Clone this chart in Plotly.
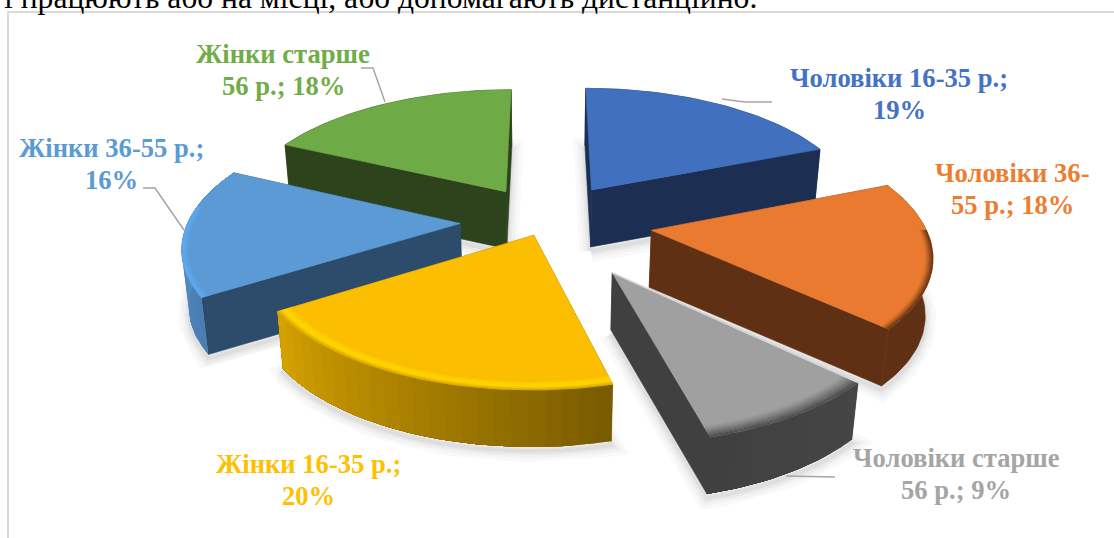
import math
import plotly.graph_objects as go

# ---- data ----
categories = ["Чоловіки 16-35 р.", "Чоловіки 36-55 р.", "Чоловіки старше 56 р.",
              "Жінки 16-35 р.", "Жінки 36-55 р.", "Жінки старше 56 р."]
values = [19, 18, 9, 20, 16, 18]
label_templates = [["Чоловіки 16-35 р.;", "{v}%"], ["Чоловіки 36-", "55 р.; {v}%"],
                   ["Чоловіки старше", "56 р.; {v}%"], ["Жінки 16-35 р.;", "{v}%"],
                   ["Жінки 36-55 р.;", "{v}%"], ["Жінки старше", "56 р.; {v}%"]]
heading = "і працюють або на місці, або допомагають дистанційно."

# ---- style ----
W, H = 1114, 538
explode = [0.31, 0.39, 0.45, 0.12, 0.315, 0.285]
top_col = ["#4170BE", "#E97A30", "#A0A0A0", "#FBBE00", "#5B9AD5", "#6EAA46"]
label_col = ["#4472C4", "#ED7D31", "#A5A5A5", "#FFC000", "#5B9BD5", "#70AD47"]
cut_col = ["#1C2F52", "#5F3013", "#404040", "#8A6800", "#2D4B6B", "#2C431B"]
rim_a = ["#1C2F52", "#5F3013", "#454545", "#7A5C00", "#4A7DB3", "#2C431B"]
rim_b = ["#1C2F52", "#5F3013", "#404040", "#D6A300", "#5B9BD5", "#2C431B"]
bevel = [[], ["#5F3013", "#8F4C1E", "#C0672A", "#E97A30"],
         ["#4A4A4A", "#6A6A6A", "#888888", "#A0A0A0"],
         ["#D8A600", "#FFD800", "#FFD000", "#FBBE00"],
         ["#5FA8EE", "#60A8EE", "#5DA0DD", "#5B9AD5"], []]
bevel_width = [0, 0.03, 0.06, 0.055, 0.03, 0]
label_pos = [(899, 94), (1012, 189), (956, 474), (308, 480), (111, 164), (283, 70)]
leaders = [[(722, 99), (745, 102), (772, 102)],
           [(786, 476), (835, 477)],
           [(143, 188), (155, 188), (184, 230)],
           [(361, 68), (373, 68), (385, 102)]]
paint_order = [0, 5, 1, 4, 2, 3]

CX, CY, S0, B, D, DROP = 546, 221, 272, 126, 6.5, 57


def project(X, Y, down=False):
    w = 1 / (1 - Y / D)
    x = CX + S0 * X * w
    y = CY + B * Y * w
    if down:
        x = CX + (x - CX) * 0.98
        y += DROP
    return x, y


def mix(a, b, t):
    pa = [int(a[i:i + 2], 16) for i in (1, 3, 5)]
    pb = [int(b[i:i + 2], 16) for i in (1, 3, 5)]
    return "#%02X%02X%02X" % tuple(round(p + (q - p) * t) for p, q in zip(pa, pb))


def ramp(stops, t):
    t = min(max(t, 0), 1) * (len(stops) - 1)
    k = min(int(t), len(stops) - 2)
    return mix(stops[k], stops[k + 1], t - k)


total = sum(values)
angles = [0]
for v in values:
    angles.append(angles[-1] + 360 * v / total)

fig = go.Figure()


def poly(pts, color, name, line_w=0.6):
    fig.add_trace(go.Scatter(x=[p[0] for p in pts] + [pts[0][0]],
                             y=[p[1] for p in pts] + [pts[0][1]],
                             mode="lines", fill="toself", fillcolor=color,
                             line=dict(color=color, width=line_w),
                             hoverinfo="skip", showlegend=False, name=name))


def path(pts, color, width, name, opacity=1.0):
    fig.add_trace(go.Scatter(x=[p[0] for p in pts], y=[p[1] for p in pts],
                             mode="lines", line=dict(color=color, width=width),
                             opacity=opacity, hoverinfo="skip",
                             showlegend=False, name=name))


def slice_geom(i):
    a1, a2 = angles[i], angles[i + 1]
    mid = math.radians((a1 + a2) / 2)
    ox, oy = explode[i] * math.sin(mid), -explode[i] * math.cos(mid)
    return a1, a2, ox, oy


def rim_point(ox, oy, deg, r=1.0):
    t = math.radians(deg)
    return ox + r * math.sin(t), oy - r * math.cos(t)


def arc(ox, oy, a1, a2, r=1.0, step=1.5):
    n = max(2, int((a2 - a1) / step) + 1)
    return [rim_point(ox, oy, a1 + (a2 - a1) * k / (n - 1), r) for k in range(n)]


# soft shadows beneath the slices
for i in paint_order:
    a1, a2, ox, oy = slice_geom(i)
    outline = [(ox, oy)] + arc(ox, oy, a1, a2) + [(ox, oy)]
    pts = [project(X, Y, True) for X, Y in outline]
    pts = [(x, y + 4) for x, y in pts]
    for width, alpha in ((22, 0.018), (15, 0.025), (9, 0.03), (4, 0.04)):
        path(pts, "#000000", width, "shadow", alpha)

for i in paint_order:
    a1, a2, ox, oy = slice_geom(i)
    name = categories[i]
    # cut faces
    for deg in (a1, a2):
        e = rim_point(ox, oy, deg)
        poly([project(ox, oy), project(*e), project(*e, True), project(ox, oy, True)],
             cut_col[i], name)
    # outer wall: overlapping pieces carry a gradient without seams
    rim = arc(ox, oy, a1, a2, step=1.5)
    if rim_a[i] == rim_b[i]:
        poly([project(*p) for p in rim] + [project(*p, True) for p in reversed(rim)],
             rim_a[i], name)
    else:
        for k in range(0, len(rim) - 1, 2):
            piece = rim[k:]
            c = mix(rim_a[i], rim_b[i], k / max(1, len(rim) - 2))
            poly([project(*p) for p in piece] + [project(*p, True) for p in reversed(piece)],
                 c, name, line_w=0)
    # top face
    top = [(ox, oy)] + arc(ox, oy, a1, a2)
    poly([project(*p) for p in top], top_col[i], name)
    # rounded front edge: solid bands from the rim inwards
    f1, f2 = max(a1, 90), min(a2, 278)
    if f2 > f1 and bevel[i]:
        bands = 12
        for n in range(bands):
            r1 = 1 - bevel_width[i] * n / bands
            r2 = 1 - bevel_width[i] * (n + 1) / bands
            outer = arc(ox, oy, f1, f2, r1)
            inner = arc(ox, oy, f1, f2, r2)
            poly([project(*p) for p in outer] + [project(*p) for p in reversed(inner)],
                 ramp(bevel[i], n / (bands - 1)), name, line_w=0.4)

# light edge along the grey slice
a1, a2, ox, oy = slice_geom(2)
path([project(ox, oy), project(*rim_point(ox, oy, a1))], "#DADADA", 1.4, categories[2])

for seg in leaders:
    path(seg, "#A5A5A5", 1.5, "leader")

LINE_GAP = 16
for lines, v, col, (lx, ly) in zip(label_templates, values, label_col, label_pos):
    for sign, line in zip((-1, 1), lines):
        fig.add_annotation(x=lx, y=ly + sign * LINE_GAP, text="<b>" + line.format(v=v) + "</b>",
                           showarrow=False, xanchor="center", yanchor="middle", align="center",
                           font=dict(family="Liberation Serif", size=26.6, color=col))

fig.add_annotation(x=2, y=17, text=heading, showarrow=False, xanchor="left", yanchor="bottom",
                   font=dict(family="Liberation Serif", size=31.6, color="#000000"))

fig.add_shape(type="rect", x0=8, y0=12, x1=W + 30, y1=H + 30,
              line=dict(color="#D9D9D9", width=2), layer="below")

fig.update_layout(width=W, height=H, autosize=False, margin=dict(l=0, r=0, t=0, b=0),
                  paper_bgcolor="white", plot_bgcolor="white", showlegend=False,
                  xaxis=dict(range=[0, W], visible=False, fixedrange=True),
                  yaxis=dict(range=[H, 0], visible=False, fixedrange=True))
fig.write_html("out.html", config={"displayModeBar": False},
               post_script="document.body.style.margin='0';document.body.style.overflow='hidden';")
